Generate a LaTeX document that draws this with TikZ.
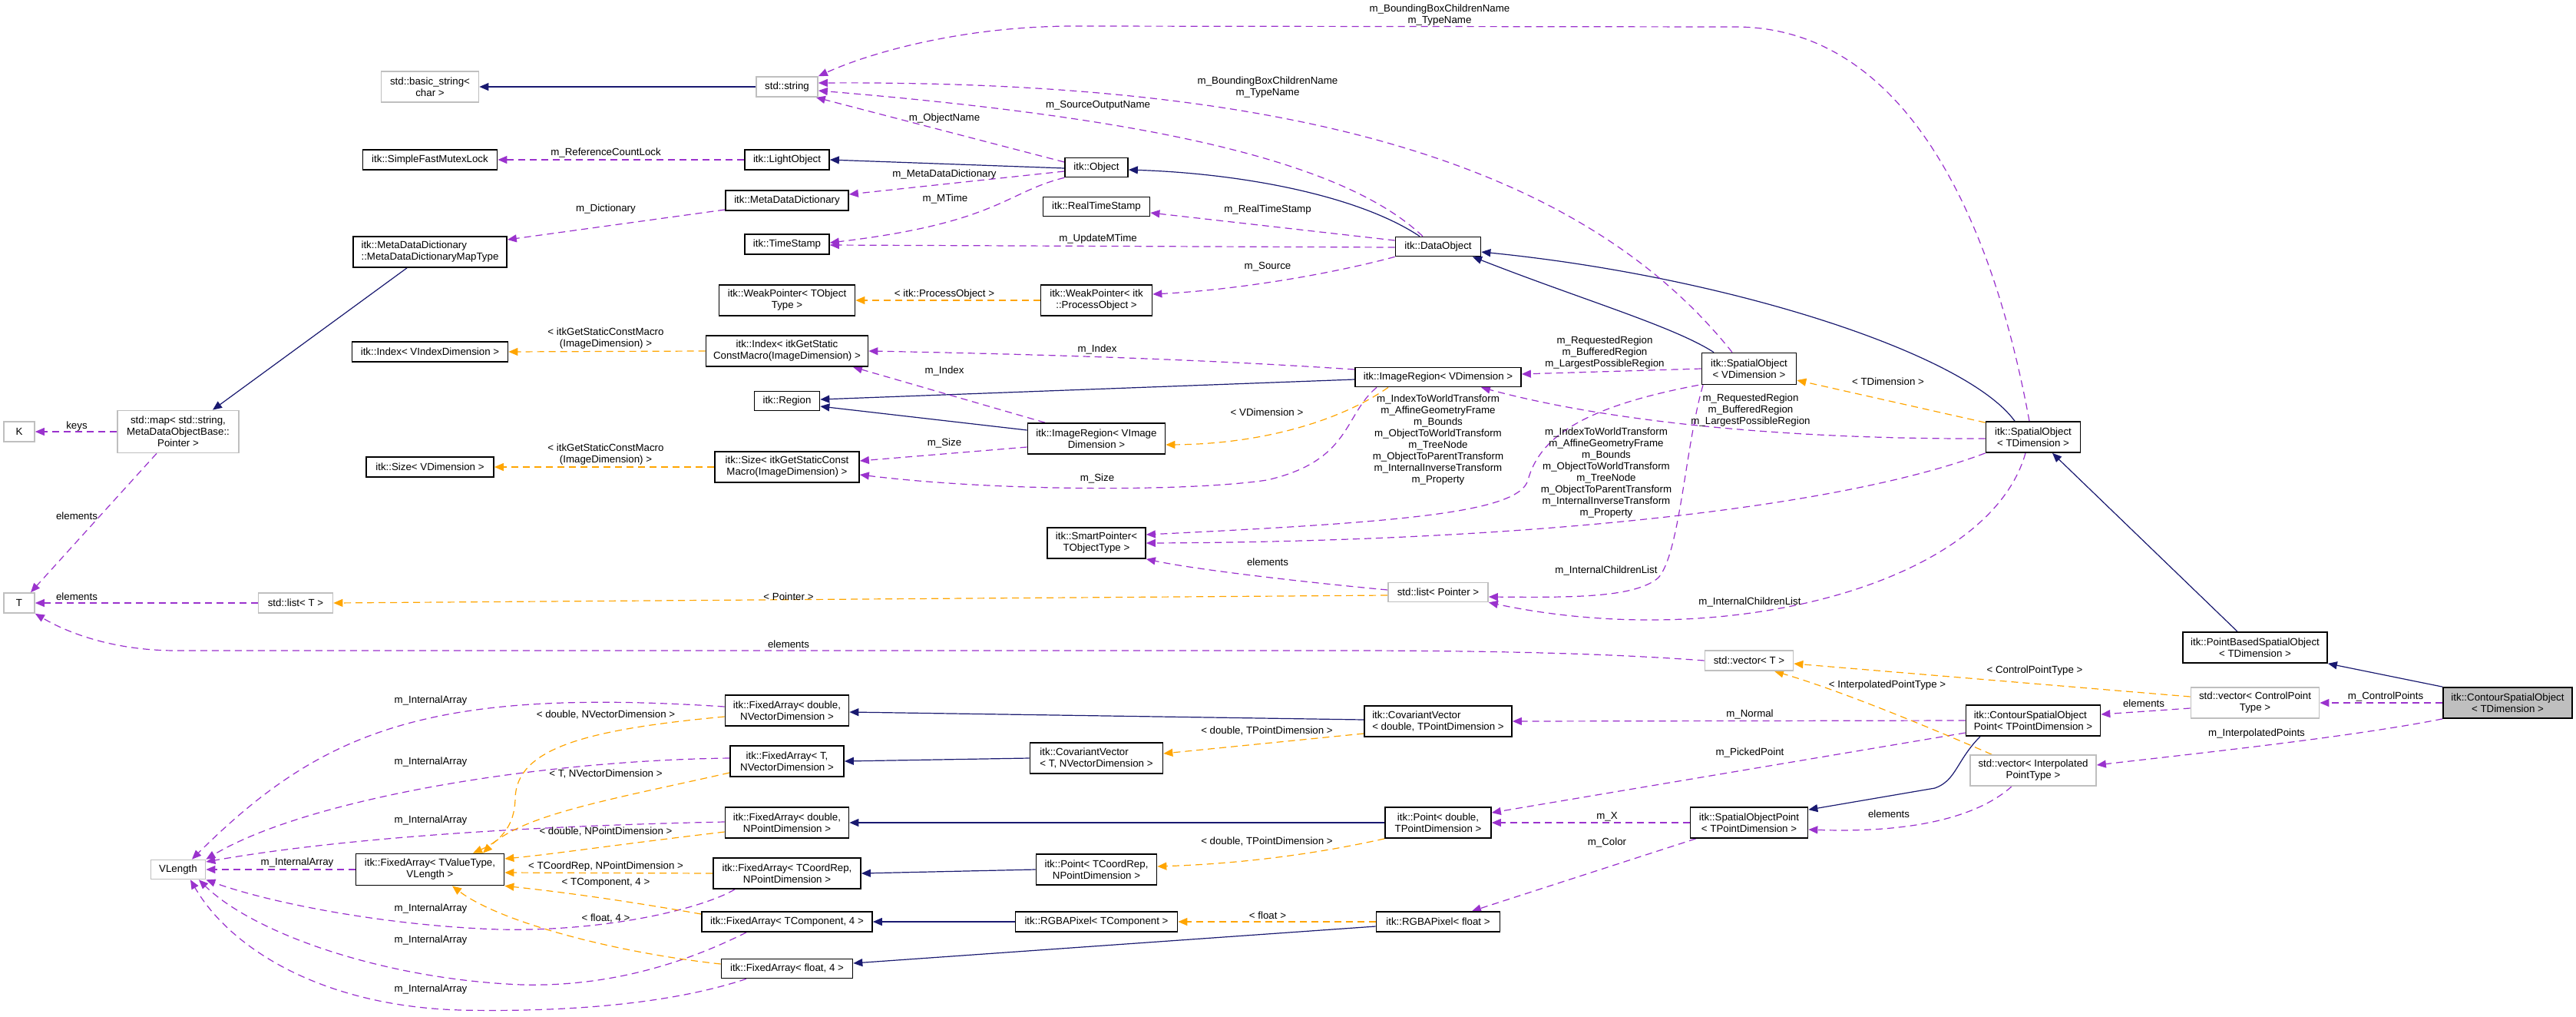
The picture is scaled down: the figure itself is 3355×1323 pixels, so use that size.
\documentclass[tikz,border=0pt]{standalone}
\usepackage{fontspec}
\setmainfont{Liberation Sans}
\usetikzlibrary{arrows.meta}
\definecolor{inhblue}{HTML}{191970}
\definecolor{usepurple}{HTML}{9A32CD}
\definecolor{tmplorange}{HTML}{FFA500}
\definecolor{boxgray}{HTML}{BFBFBF}
\newcommand\dxfont{\fontsize{13.3}{15}\selectfont}
\pgfdeclarelayer{back}
\pgfdeclarelayer{edges}
\pgfsetlayers{back,edges,main}
\begin{document}
\begin{tikzpicture}[x=1pt,y=-1pt,
  box/.style={draw=black, line width=1.7pt, fill=white, rectangle, inner sep=0pt, align=center, font=\dxfont},
  extbox/.style={box, draw=boxgray},
  mainbox/.style={box, fill=boxgray},
  lbl/.style={inner sep=0pt, align=center, font=\dxfont},
  inh/.style={draw=inhblue, line width=1.2pt, -{Triangle[length=12pt,width=10pt]}},
  usage/.style={draw=usepurple, line width=1.2pt, dash pattern=on 9pt off 6pt, -{Triangle[length=12pt,width=10pt]}},
  tmpl/.style={draw=tmplorange, line width=1.2pt, dash pattern=on 9pt off 6pt, -{Triangle[length=12pt,width=10pt]}}]
\begin{pgfonlayer}{back}
\fill[white] (0,0) rectangle (3355,1323);
\end{pgfonlayer}
\useasboundingbox (0,0) rectangle (3355,1323);
% ---------- nodes ----------
\node[extbox,minimum width=127pt,minimum height=40pt] (bstr) at (560,113) {std::basic\_string<\\char >};
\node[box,minimum width=175pt,minimum height=26pt] (sfml) at (560,208) {itk::SimpleFastMutexLock};
\node[box,align=left,minimum width=200pt,minimum height=40pt] (mdmt) at (560,328) {itk::MetaDataDictionary\\::MetaDataDictionaryMapType};
\node[box,minimum width=203pt,minimum height=26pt] (idxv) at (560,458) {itk::Index< VIndexDimension >};
\node[extbox,minimum width=40pt,minimum height=26pt] (k) at (25,562) {K};
\node[extbox,minimum width=158pt,minimum height=55pt] (map) at (232,562) {std::map< std::string,\\MetaDataObjectBase::\\Pointer >};
\node[box,minimum width=166pt,minimum height=26pt] (sizev) at (560,608) {itk::Size< VDimension >};
\node[extbox,minimum width=40pt,minimum height=26pt] (t) at (25,785) {T};
\node[extbox,minimum width=97pt,minimum height=26pt] (listt) at (385,785) {std::list< T >};
\node[extbox,minimum width=71pt,minimum height=25pt] (vlen) at (232,1132) {VLength};
\node[box,minimum width=193pt,minimum height=41pt] (fatv) at (560,1132) {itk::FixedArray< TValueType,\\VLength >};
\node[extbox,minimum width=80pt,minimum height=26pt] (str) at (1025,113) {std::string};
\node[box,minimum width=110pt,minimum height=26pt] (lo) at (1025,208) {itk::LightObject};
\node[box,minimum width=160pt,minimum height=26pt] (mdd) at (1025,261) {itk::MetaDataDictionary};
\node[box,minimum width=110pt,minimum height=26pt] (ts) at (1025,318) {itk::TimeStamp};
\node[box,minimum width=177pt,minimum height=40pt] (wpt) at (1025,391) {itk::WeakPointer< TObject\\Type >};
\node[box,minimum width=211pt,minimum height=40pt] (idxg) at (1025,457) {itk::Index< itkGetStatic\\ConstMacro(ImageDimension) >};
\node[box,minimum width=85pt,minimum height=25pt] (reg) at (1025,522) {itk::Region};
\node[box,minimum width=188pt,minimum height=40pt] (sizeg) at (1025,608) {itk::Size< itkGetStaticConst\\Macro(ImageDimension) >};
\node[box,minimum width=161pt,minimum height=40pt] (fadv) at (1025,925) {itk::FixedArray< double,\\NVectorDimension >};
\node[box,minimum width=148pt,minimum height=40pt] (fatn) at (1025,991) {itk::FixedArray< T,\\NVectorDimension >};
\node[box,minimum width=161pt,minimum height=40pt] (fadp) at (1025,1071) {itk::FixedArray< double,\\NPointDimension >};
\node[box,minimum width=192pt,minimum height=40pt] (facr) at (1025,1137) {itk::FixedArray< TCoordRep,\\NPointDimension >};
\node[box,minimum width=222pt,minimum height=26pt] (fatc) at (1025,1200) {itk::FixedArray< TComponent, 4 >};
\node[box,minimum width=171pt,minimum height=25pt] (faf4) at (1025,1261) {itk::FixedArray< float, 4 >};
\node[box,minimum width=82pt,minimum height=25pt] (obj) at (1428,218) {itk::Object};
\node[box,minimum width=139pt,minimum height=25pt] (rts) at (1428,269) {itk::RealTimeStamp};
\node[box,minimum width=145pt,minimum height=40pt] (wpp) at (1428,391) {itk::WeakPointer< itk\\::ProcessObject >};
\node[box,minimum width=179pt,minimum height=40pt] (irvi) at (1428,571) {itk::ImageRegion< VImage\\Dimension >};
\node[box,minimum width=128pt,minimum height=40pt] (sp) at (1428,707) {itk::SmartPointer<\\TObjectType >};
\node[box,align=left,minimum width=173pt,minimum height=40pt] (cvt) at (1428,987) {itk::CovariantVector\\< T, NVectorDimension >};
\node[box,minimum width=157pt,minimum height=40pt] (ptc) at (1428,1132) {itk::Point< TCoordRep,\\NPointDimension >};
\node[box,minimum width=211pt,minimum height=26pt] (rgbt) at (1428,1200) {itk::RGBAPixel< TComponent >};
\node[box,minimum width=111pt,minimum height=25pt] (dobj) at (1873,321) {itk::DataObject};
\node[box,minimum width=216pt,minimum height=25pt] (irv) at (1873,491) {itk::ImageRegion< VDimension >};
\node[extbox,minimum width=130pt,minimum height=25pt] (lp) at (1873,771) {std::list< Pointer >};
\node[box,align=left,minimum width=192pt,minimum height=40pt] (cvd) at (1873,939) {itk::CovariantVector\\< double, TPointDimension >};
\node[box,minimum width=138pt,minimum height=40pt] (ptd) at (1873,1071) {itk::Point< double,\\TPointDimension >};
\node[box,minimum width=161pt,minimum height=26pt] (rgbf) at (1873,1200) {itk::RGBAPixel< float >};
\node[box,minimum width=123pt,minimum height=41pt] (sov) at (2278,480) {itk::SpatialObject\\< VDimension >};
\node[extbox,minimum width=115pt,minimum height=26pt] (vt) at (2278,860) {std::vector< T >};
\node[box,minimum width=153pt,minimum height=40pt] (sop) at (2278,1071) {itk::SpatialObjectPoint\\< TPointDimension >};
\node[box,minimum width=123pt,minimum height=40pt] (sot) at (2648,569) {itk::SpatialObject\\< TDimension >};
\node[box,align=left,minimum width=175pt,minimum height=40pt] (csop) at (2648,938) {itk::ContourSpatialObject\\Point< TPointDimension >};
\node[extbox,minimum width=164pt,minimum height=40pt] (vip) at (2648,1003) {std::vector< Interpolated\\PointType >};
\node[box,minimum width=188pt,minimum height=40pt] (pb) at (2937,843) {itk::PointBasedSpatialObject\\< TDimension >};
\node[extbox,minimum width=167pt,minimum height=40pt] (vcp) at (2937,915) {std::vector< ControlPoint\\Type >};
\node[mainbox,minimum width=168pt,minimum height=40pt] (cso) at (3266,915) {itk::ContourSpatialObject\\< TDimension >};
% ---------- edges ----------
\begin{pgfonlayer}{edges}
% inheritance
\draw[inh] (str.west) -- (bstr.east);
\draw[inh] ([yshift=-1pt]obj.west) -- (lo.east);
\draw[inh] ([xshift=-24pt]dobj.north) .. controls (1770,255) and (1620,226) .. ([yshift=-3pt]obj.east);
\draw[inh] ([xshift=-30pt]mdmt.south) -- ([xshift=45pt]map.north);
\draw[inh] ([yshift=-3pt]irv.west) -- ([yshift=2pt]reg.east);
\draw[inh] ([yshift=11pt]irvi.west) -- ([yshift=-7pt]reg.east);
\draw[inh] ([xshift=-46pt]sov.north) .. controls (2180,425) and (2060,390) .. ([xshift=45pt]dobj.south);
\draw[inh] ([xshift=-24pt]sot.north) .. controls (2560,460) and (2250,360) .. ([yshift=-7pt]dobj.east);
\draw[inh] ([xshift=-23pt]pb.north) -- ([xshift=25pt]sot.south);
\draw[inh] (cso.north west) -- (pb.south east);
\draw[inh] ([xshift=-69pt]csop.south) .. controls (2548,990) and (2548,1016) .. (2520,1026) -- ([yshift=-4pt]sop.north east);
\draw[inh] ([yshift=2pt]cvd.west) -- ([yshift=-2pt]fadv.east);
\draw[inh] (cvt.west) -- (fatn.east);
\draw[inh] (ptd.west) -- (fadp.east);
\draw[inh] (ptc.west) -- (facr.east);
\draw[inh] (rgbt.west) -- (fatc.east);
\draw[inh] ([yshift=-6pt]rgbf.west) -- ([yshift=7pt]faf4.east);
% usage
\draw[usage] (lo.west) -- (sfml.east);
\draw[usage] ([yshift=-12pt]mdd.west) -- ([yshift=16pt]mdmt.east);
\draw[usage] ([yshift=7pt]obj.west) -- ([xshift=-3pt]str.south east);
\draw[usage] ([yshift=-5pt]obj.west) -- ([yshift=8pt]mdd.east);
\draw[usage] (obj.south west) .. controls (1310,250) and (1300,290) .. ([yshift=2pt]ts.east);
\draw[usage] ([yshift=8pt]dobj.west) -- ([yshift=-8pt]rts.east);
\draw[usage] ([yshift=-1pt]dobj.west) -- ([yshift=-1pt]ts.east);
\draw[usage] (dobj.south west) .. controls (1720,360) and (1600,378) .. ([yshift=8pt]wpp.east);
\draw[usage] ([xshift=-20pt]dobj.north) .. controls (1740,200) and (1450,150) .. ([yshift=-5pt]str.east);
\draw[usage] ([xshift=-22pt]sov.north) .. controls (2050,200) and (1650,105) .. ([yshift=5pt]str.east);
\draw[usage] ([xshift=-5pt]sot.north) .. controls (2590,260) and (2470,35) .. (2260,35) -- (1400,34) .. controls (1250,34) and (1130,70) .. (str.north east);
\draw[usage] (sov.west) -- ([yshift=4pt]irv.east);
\draw[usage] ([yshift=-2pt]sot.west) .. controls (2300,572) and (2080,545) .. ([xshift=56pt]irv.south);
\draw[usage] ([xshift=-66pt]sov.south) .. controls (2060,530) and (2005,570) .. (1990,625) .. controls (1978,668) and (1820,680) .. ([yshift=11pt]sp.east);
\draw[usage] (sot.south west) .. controls (2400,660) and (2000,705) .. (sp.east);
\draw[usage] ([yshift=3pt]lp.west) .. controls (1700,758) and (1560,742) .. (sp.south east);
\draw[usage] ([xshift=-60pt]sov.south) .. controls (2195,580) and (2188,720) .. (2160,752) .. controls (2130,778) and (2050,778) .. ([yshift=-6pt]lp.east);
\draw[usage] ([xshift=-10pt]sot.south) .. controls (2590,760) and (2250,850) .. (lp.south east);
\draw[usage] ([yshift=10pt]irv.west) .. controls (1600,470) and (1400,462) .. (idxg.east);
\draw[usage] ([xshift=-80pt]irv.south) .. controls (1750,540) and (1760,600) .. (1650,625) .. controls (1550,640) and (1300,640) .. ([yshift=-10pt]sizeg.east);
\draw[usage] ([xshift=-67pt]irvi.north) -- ([xshift=86pt]idxg.south);
\draw[usage] ([yshift=-11pt]irvi.west) -- ([yshift=8pt]sizeg.east);
\draw[usage] (map.west) -- (k.east);
\draw[usage] ([xshift=-28pt]map.south) -- ([xshift=15pt]t.north);
\draw[usage] (listt.west) -- (t.east);
\draw[usage] (vt.west) .. controls (2100,851) and (1950,847) .. (1750,847) -- (230,847) .. controls (150,847) and (90,825) .. (t.south east);
\draw[usage] (cso.west) -- (vcp.east);
\draw[usage] (cso.south west) .. controls (3060,960) and (2850,982) .. ([yshift=7pt]vip.east);
\draw[usage] ([yshift=-7pt]vcp.west) -- ([yshift=8pt]csop.east);
\draw[usage] (csop.west) -- (cvd.east);
\draw[usage] ([yshift=-16pt]csop.west) -- ([yshift=13pt]ptd.east);
\draw[usage] (sop.west) -- (ptd.east);
\draw[usage] ([xshift=8pt]sop.south west) -- ([xshift=44pt]rgbf.north);
\draw[usage] ([xshift=-28pt]vip.south) .. controls (2580,1060) and (2500,1085) .. ([yshift=-9pt]sop.east);
\draw[usage] ([yshift=5pt]fadv.west) .. controls (560,895) and (420,950) .. ([xshift=18pt]vlen.north);
\draw[usage] ([yshift=4pt]fatn.west) .. controls (700,990) and (400,1040) .. (vlen.north east);
\draw[usage] ([yshift=1pt]fadp.west) .. controls (700,1075) and (450,1090) .. ([yshift=10pt]vlen.east);
\draw[usage] (fatv.west) -- (vlen.east);
\draw[usage] ([xshift=-68pt]facr.south) .. controls (920,1180) and (800,1213) .. (650,1210) .. controls (500,1205) and (350,1175) .. (vlen.south east);
\draw[usage] ([xshift=-53pt]fatc.south) .. controls (900,1250) and (800,1285) .. (680,1282) .. controls (500,1275) and (330,1215) .. ([xshift=27pt]vlen.south);
\draw[usage] ([xshift=-53pt]faf4.south) .. controls (880,1305) and (750,1318) .. (600,1315) .. controls (420,1310) and (300,1235) .. ([xshift=16pt]vlen.south);
% templates
\draw[tmpl] (wpp.west) -- (wpt.east);
\draw[tmpl] (idxg.west) -- (idxv.east);
\draw[tmpl] (sizeg.west) -- (sizev.east);
\draw[tmpl] ([xshift=-65pt]irv.south) .. controls (1750,545) and (1650,578) .. ([yshift=-8pt]irvi.east);
\draw[tmpl] ([yshift=-4pt]lp.west) -- (listt.east);
\draw[tmpl] ([yshift=-2pt]sot.north west) -- ([yshift=-15pt]sov.east);
\draw[tmpl] ([yshift=8pt]vcp.west) -- ([yshift=-4pt]vt.east);
\draw[tmpl] ([xshift=-54pt]vip.north) .. controls (2520,950) and (2400,900) .. ([xshift=33pt]vt.south);
\draw[tmpl] ([yshift=-16pt]cvd.west) -- ([yshift=6pt]cvt.east);
\draw[tmpl] (ptd.south west) .. controls (1700,1115) and (1600,1125) .. ([yshift=4pt]ptc.east);
\draw[tmpl] (rgbf.west) -- (rgbt.east);
\draw[tmpl] ([yshift=-8pt]fadv.west) .. controls (760,950) and (672,975) .. (671,1040) .. controls (670,1085) and (640,1100) .. ([xshift=56pt]fatv.north);
\draw[tmpl] ([yshift=-15pt]fatn.west) .. controls (800,1040) and (680,1060) .. ([xshift=69pt]fatv.north);
\draw[tmpl] ([yshift=-12pt]fadp.west) .. controls (800,1100) and (720,1112) .. ([yshift=14pt]fatv.east);
\draw[tmpl] (facr.west) -- ([yshift=-4pt]fatv.east);
\draw[tmpl] ([yshift=10pt]fatc.west) .. controls (800,1170) and (720,1160) .. (fatv.south east);
\draw[tmpl] ([yshift=6pt]faf4.west) .. controls (800,1240) and (650,1200) .. ([xshift=29pt]fatv.south);
\end{pgfonlayer}
% ---------- labels ----------
\node[lbl] (l1) at (789,199) {m\_ReferenceCountLock};
\node[lbl] (l2) at (789,272) {m\_Dictionary};
\node[lbl] (l3) at (1230,154) {m\_ObjectName};
\node[lbl] (l4) at (1230,227) {m\_MetaDataDictionary};
\node[lbl] (l5) at (1231,259) {m\_MTime};
\node[lbl] (l6) at (1230,383) {< itk::ProcessObject >};
\node[lbl] (l7) at (789,441) {< itkGetStaticConstMacro\\(ImageDimension) >};
\node[lbl] (l8) at (1430,137) {m\_SourceOutputName};
\node[lbl] (l9) at (1430,311) {m\_UpdateMTime};
\node[lbl] (l10) at (1875,20) {m\_BoundingBoxChildrenName\\m\_TypeName};
\node[lbl] (l11) at (1651,114) {m\_BoundingBoxChildrenName\\m\_TypeName};
\node[lbl] (l12) at (1651,273) {m\_RealTimeStamp};
\node[lbl] (l13) at (1651,347) {m\_Source};
\node[lbl] (l14) at (1230,483) {m\_Index};
\node[lbl] (l15) at (1230,577) {m\_Size};
\node[lbl] (l16) at (789,592) {< itkGetStaticConstMacro\\(ImageDimension) >};
\node[lbl] (l17) at (1027,777) {< Pointer >};
\node[lbl] (l18) at (1027,839) {elements};
\node[lbl] (l19) at (1429,455) {m\_Index};
\node[lbl] (l20) at (1429,623) {m\_Size};
\node[lbl] (l21) at (1650,537) {< VDimension >};
\node[lbl] (l22) at (1873,573) {m\_IndexToWorldTransform\\m\_AffineGeometryFrame\\m\_Bounds\\m\_ObjectToWorldTransform\\m\_TreeNode\\m\_ObjectToParentTransform\\m\_InternalInverseTransform\\m\_Property};
\node[lbl] (l23) at (1651,732) {elements};
\node[lbl] (l24) at (2092,616) {m\_IndexToWorldTransform\\m\_AffineGeometryFrame\\m\_Bounds\\m\_ObjectToWorldTransform\\m\_TreeNode\\m\_ObjectToParentTransform\\m\_InternalInverseTransform\\m\_Property};
\node[lbl] (l25) at (2090,459) {m\_RequestedRegion\\m\_BufferedRegion\\m\_LargestPossibleRegion};
\node[lbl] (l26) at (2280,534) {m\_RequestedRegion\\m\_BufferedRegion\\m\_LargestPossibleRegion};
\node[lbl] (l27) at (2092,743) {m\_InternalChildrenList};
\node[lbl] (l28) at (2279,784) {m\_InternalChildrenList};
\node[lbl] (l29) at (2459,497) {< TDimension >};
\node[lbl] (l30) at (2650,873) {< ControlPointType >};
\node[lbl] (l31) at (2458,892) {< InterpolatedPointType >};
\node[lbl] (l32) at (2792,916) {elements};
\node[lbl] (l33) at (3107,907) {m\_ControlPoints};
\node[lbl] (l34) at (2939,955) {m\_InterpolatedPoints};
\node[lbl] (l35) at (2279,930) {m\_Normal};
\node[lbl] (l36) at (2279,980) {m\_PickedPoint};
\node[lbl] (l37) at (2093,1063) {m\_X};
\node[lbl] (l38) at (2093,1097) {m\_Color};
\node[lbl] (l39) at (2460,1060) {elements};
\node[lbl] (l40) at (1650,952) {< double, TPointDimension >};
\node[lbl] (l41) at (1650,1096) {< double, TPointDimension >};
\node[lbl] (l42) at (1651,1192) {< float >};
\node[lbl] (l43) at (789,931) {< double, NVectorDimension >};
\node[lbl] (l44) at (789,1008) {< T, NVectorDimension >};
\node[lbl] (l45) at (789,1083) {< double, NPointDimension >};
\node[lbl] (l46) at (789,1128) {< TCoordRep, NPointDimension >};
\node[lbl] (l47) at (789,1149) {< TComponent, 4 >};
\node[lbl] (l48) at (789,1196) {< float, 4 >};
\node[lbl] (l49) at (561,912) {m\_InternalArray};
\node[lbl] (l50) at (561,992) {m\_InternalArray};
\node[lbl] (l51) at (561,1068) {m\_InternalArray};
\node[lbl] (l52) at (387,1123) {m\_InternalArray};
\node[lbl] (l53) at (561,1183) {m\_InternalArray};
\node[lbl] (l54) at (561,1224) {m\_InternalArray};
\node[lbl] (l55) at (561,1288) {m\_InternalArray};
\node[lbl] (l56) at (100,555) {keys};
\node[lbl] (l57) at (100,672) {elements};
\node[lbl] (l58) at (100,777) {elements};
\end{tikzpicture}
\end{document}
